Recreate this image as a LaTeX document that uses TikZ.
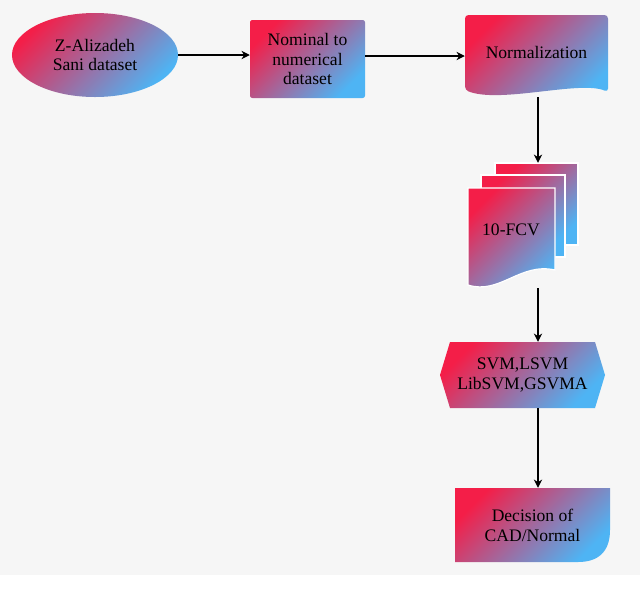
\documentclass[tikz,border=0pt]{standalone}
\usepackage{fontspec}
\setmainfont{Liberation Serif}
\usetikzlibrary{shapes.geometric,arrows.meta}
\definecolor{hotred}{HTML}{F41E48}
\definecolor{skyblue}{HTML}{4EB4F4}
\definecolor{paper}{HTML}{F6F6F6}
\tikzset{
    grad/.style = {top color=hotred, bottom color=skyblue, shading angle=45},
    txt/.style = {align=center, font=\fontsize{15}{17}\selectfont, inner sep=0pt},
    arrow/.style = {line width=1.6pt,-{Stealth[length=7pt,width=7pt]}}
}
\begin{document}
\begin{tikzpicture}[x=0.03cm,y=-0.03cm]
\useasboundingbox (0,0) rectangle (640,605);
\fill[paper] (0,0) rectangle (640,575);
% data source
\node (data) [ellipse, grad, minimum width=166\pgflinewidth*0+4.98cm, minimum height=2.52cm, txt] at (95,55) {Z-Alizadeh\\Sani dataset};
% conversion
\node (nominal) [rectangle, grad, rounded corners=2pt, minimum width=3.45cm, minimum height=2.34cm, txt] at (307.5,59) {Nominal to\\numerical\\dataset};
% normalization, wavy bottom
\shade[grad, rounded corners=3pt] (465,15) -- (608,15) -- (608,92) .. controls (580,80) and (500,104) .. (465,90) -- cycle;
\node (norm) [txt, minimum width=4.29cm, minimum height=2.46cm] at (536.5,56) {};
\node[txt] at (536.5,52) {Normalization};
% folds
\shade[grad, draw=white, line width=1pt] (495,163) -- (578,163) -- (578,245) -- (495,245) -- cycle;
\shade[grad, draw=white, line width=1pt] (481,175) -- (565,175) -- (565,257) -- (481,257) -- cycle;
\shade[grad, draw=white, line width=1pt] (468,188) -- (555,188) -- (555,270) .. controls (520,262) and (500,295) .. (468,285) -- cycle;
\node (fcv) [txt, minimum width=2.79cm, minimum height=3.75cm] at (523,225.5) {};
\node[txt] at (511,230) {10-FCV};
% classifiers
\node (svm) [txt, minimum width=4.95cm, minimum height=1.98cm] at (522.5,375) {};
\shade[grad] (440,375) -- (450,342) -- (595,342) -- (605,375) -- (595,408) -- (450,408) -- cycle;
\node[txt] at (522.5,375) {SVM,LSVM\\LibSVM,GSVMA};
% decision
\shade[grad] (455,488) -- (610,488) -- (610,530) .. controls (610,552) and (598,562) .. (578,562) -- (455,562) -- cycle;
\node (decision) [txt, minimum width=4.65cm, minimum height=2.22cm] at (532.5,525) {};
\node[txt] at (532.5,525) {Decision of\\CAD/Normal};

\draw [arrow] (data) -- (nominal.west |- data);
\draw [arrow] (nominal.east |- norm) -- (norm);
\draw [arrow] (norm.south -| 538,0) -- (fcv.north -| 538,0);
\draw [arrow] (fcv.south -| 538,0) -- (svm.north -| 538,0);
\draw [arrow] (svm.south -| 538,0) -- (decision.north -| 538,0);
\end{tikzpicture}
\end{document}
